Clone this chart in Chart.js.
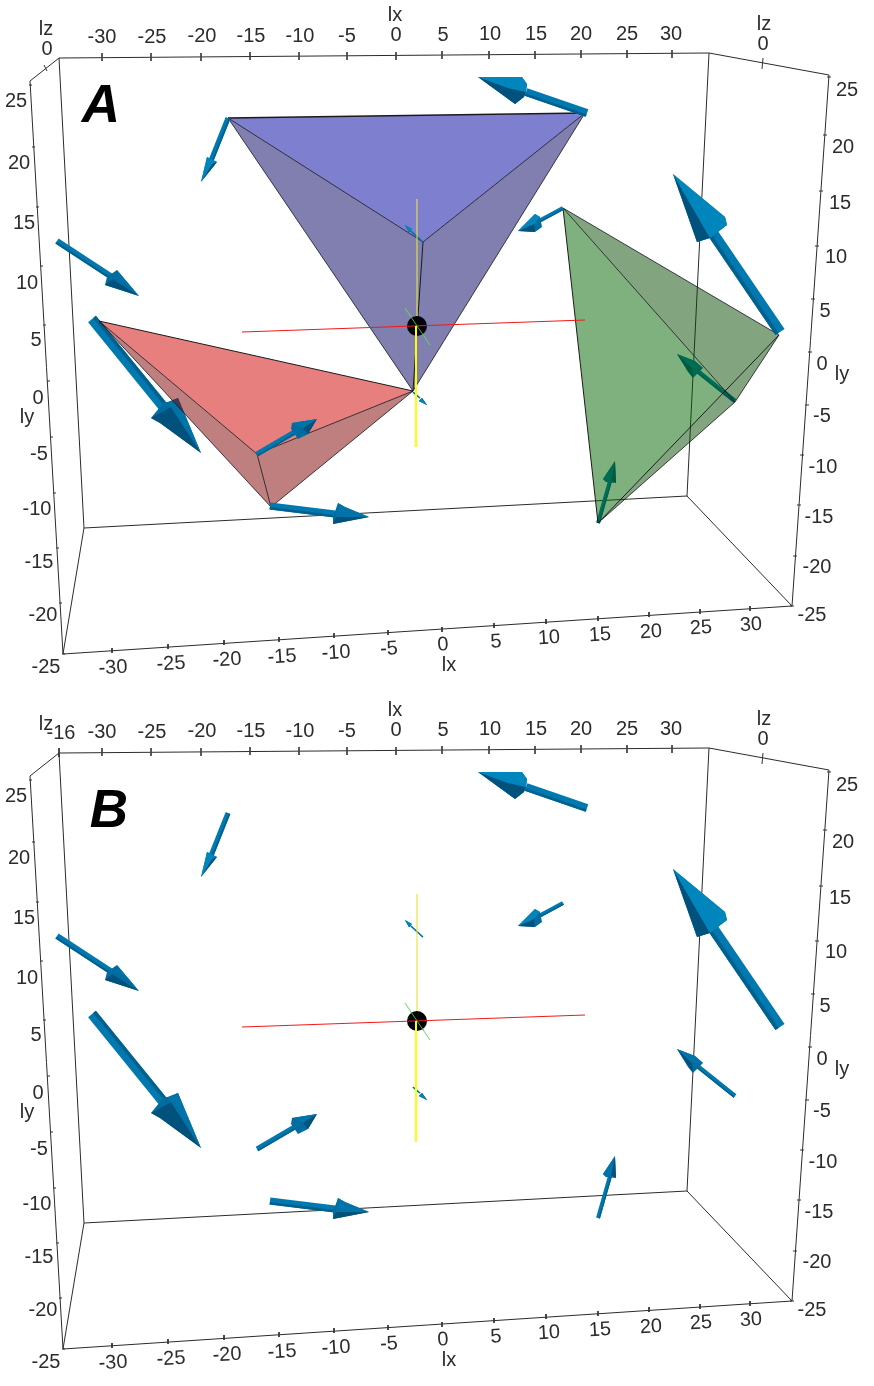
<!DOCTYPE html>
<html lang="en">

<head>
    <meta charset="UTF-8">
    <title>Pyramids and force arrows</title>
    <script src="https://cdn.jsdelivr.net/npm/chart.js"></script>
    <style>
        html, body { margin: 0; padding: 0; background: #fff; }
        canvas { display: block; }
    </style>
</head>

<body>
    <canvas id="chart" width="874" height="1386"></canvas>

    <script>
        // The 3D view is flat in the picture, so the chart's two axes are the picture plane.
        const panelShift = [0, 695];
        const panelNames = ['A', 'B'];
        const panelNamePos = [[101, 107], [109, 117]];

        const topTicks = ['-30', '-25', '-20', '-15', '-10', '-5', '0', '5', '10', '15', '20', '25', '30'];
        const topTickX = [102, 151, 201, 250, 299, 347, 396, 442, 489, 535, 581, 627, 672];
        const topTickY = [57, 57, 57, 56, 56, 56, 56, 55, 55, 55, 54, 54, 54];
        const topLabelX = [102, 152, 202, 251, 300, 347, 396, 443, 490, 536, 581, 627, 671];
        const topLabelY = [37, 37, 36, 36, 36, 36, 35, 35, 34, 34, 34, 34, 34];

        const bottomTickX = [112, 168, 224, 279, 334, 388, 442, 494, 546, 598, 649, 700, 750];
        const bottomTickY = [651, 647, 643, 640, 636, 633, 630, 626, 622, 619, 615, 612, 609];
        const bottomLabelX = [113, 171, 227, 282, 336, 389, 443, 496, 549, 600, 651, 701, 751];
        const bottomLabelY = [668, 664, 660, 657, 653, 649, 645, 642, 638, 635, 632, 628, 625];

        const sideTicks = ['25', '20', '15', '10', '5', '0', '-5', '-10', '-15', '-20', '-25'];
        const leftTickX = [30, 33, 37, 41, 44, 48, 51, 54, 57, 60, 63];
        const leftTickY = [85, 147, 207, 266, 325, 381, 437, 493, 548, 603, 654];
        const leftLabelX = [16, 19, 24, 27, 36, 38, 39, 37, 39, 43, 46];
        const leftLabelY = [101, 163, 223, 283, 340, 398, 454, 509, 562, 615, 667];
        const rightTickX = [828, 824, 820, 816, 812, 809, 806, 801, 798, 794, 791];
        const rightTickY = [77, 135, 191, 246, 299, 352, 405, 455, 505, 556, 606];
        const rightLabelX = [847, 843, 840, 836, 825, 822, 822, 823, 819, 817, 812];
        const rightLabelY = [90, 147, 203, 257, 311, 364, 416, 467, 517, 567, 615];

        const axisTitles = [['lx', 395, 15], ['lx', 449, 665], ['ly', 27, 417], ['ly', 842, 374], ['lz', 46, 29], ['lz', 764, 24]];
        const cornerLabels = [['0', 47, 49], ['-16', 61, 38]];
        const rightDepth = ['0', 763, 44];

        const boxEdges = [
            [[59, 58], [709, 53]], [[30, 81], [63, 654]], [[59, 58], [84, 528]], [[30, 81], [59, 58]],
            [[63, 654], [84, 528]], [[63, 654], [792, 606]], [[84, 528], [687, 496]], [[709, 53], [687, 496]],
            [[829, 75], [792, 606]], [[709, 53], [829, 75]], [[687, 496], [792, 606]]
        ];

        // pyramids, only in panel A
        const blueFaces = [
            [[228, 118], [585, 113], [423, 242]],
            [[228, 118], [423, 242], [413, 391]],
            [[585, 113], [423, 242], [413, 391]]
        ];
        const blueEdges = [[[228, 118], [423, 242]], [[585, 113], [423, 242]], [[228, 118], [413, 391]], [[585, 113], [413, 391]]];
        const redFaces = [
            [[99, 321], [413, 391], [257, 454]],
            [[99, 321], [257, 454], [271, 507]],
            [[257, 454], [413, 391], [271, 507]]
        ];
        const redEdges = [[[99, 321], [257, 454]], [[257, 454], [413, 391]], [[257, 454], [271, 507]], [[99, 321], [271, 507]], [[413, 391], [271, 507]]];
        const greenFaces = [
            [[563, 208], [725, 391], [598, 523]],
            [[563, 208], [779, 335], [725, 391]],
            [[725, 391], [779, 335], [735, 402], [598, 523]]
        ];
        const greenEdges = [[[563, 208], [779, 335]], [[563, 208], [735, 402]], [[779, 335], [735, 402]], [[735, 402], [598, 523]]];
        const heavyEdges = [[[228, 118], [585, 113]], [[423, 242], [413, 391]], [[99, 321], [413, 391]], [[563, 208], [598, 523]], [[779, 335], [598, 523]]];
        const blueColors = ['rgba(0,0,160,0.5)', 'rgba(1,0,95,0.5)', 'rgba(1,0,95,0.5)'];
        const redColors = ['rgba(210,0,0,0.5)', 'rgba(130,0,0,0.5)', 'rgba(130,0,0,0.5)'];
        const greenColors = ['rgba(0,100,0,0.5)', 'rgba(5,75,0,0.5)', 'rgba(5,75,0,0.5)'];

        // arrows: tail, neck (where shaft meets head), shaft width, head outline and its two shaded sides
        const arrowTails = [[228, 118], [587, 113], [780, 332], [57, 241], [92, 319], [257, 454], [270, 506], [598, 523], [735, 401], [563, 208], [423, 242], [413, 392]];
        const arrowNecks = [[210, 163], [526, 92], [712, 232], [112, 277], [165, 409], [298, 430], [335, 514], [610, 481], [695, 369], [537, 222], [411, 231], [420, 398]];
        const arrowWidths = [5, 8, 11, 6, 10, 5, 7, 4, 4.5, 4, 1.5, 1.5];
        const arrowBright = [1, 1, 1, 0, 0, 0, 0, 0, 0, 1, 1, 1];
        const arrowOutline = [
            [[201, 182], [207, 157], [217, 162]],
            [[478, 77], [522, 77], [527, 84], [526, 92], [524, 97], [515, 104]],
            [[673, 174], [725, 217], [727, 225], [710, 238], [697, 242]],
            [[139, 296], [117, 270], [107, 277], [105, 285]],
            [[201, 453], [178, 398], [168, 402], [164, 402], [151, 418], [160, 423]],
            [[317, 419], [292, 423], [291, 429], [298, 439], [308, 434]],
            [[369, 517], [345, 507], [338, 503], [333, 517], [333, 524]],
            [[615, 461], [603, 479], [606, 482], [616, 483]],
            [[677, 354], [695, 361], [703, 368], [693, 378], [688, 372]],
            [[518, 231], [535, 214], [540, 217], [542, 227], [535, 232]],
            [[405, 225], [412, 229], [409, 232]],
            [[427, 405], [422, 398], [419, 401]]
        ];
        const arrowLight = [
            [[201, 182], [207, 157], [217, 162], [212, 164]],
            [[478, 77], [522, 77], [527, 84], [526, 92], [508, 88]],
            [[673, 174], [725, 217], [727, 225], [710, 238]],
            [[139, 296], [117, 270], [119, 277]],
            [[201, 453], [178, 398], [168, 402], [171, 407]],
            [[317, 419], [292, 423], [303, 428]],
            [[369, 517], [345, 507], [338, 503], [336, 517]],
            [[615, 461], [603, 479], [606, 482], [611, 480]],
            [[677, 354], [695, 361], [703, 368], [692, 368]],
            [[518, 231], [535, 214], [540, 217], [534, 224]],
            [[405, 225], [412, 229], [409, 232]],
            [[427, 405], [422, 398], [419, 401]]
        ];
        const arrowDark = [
            [[201, 182], [217, 162], [212, 164]],
            [[478, 77], [515, 104], [524, 97], [526, 92], [508, 88]],
            [[673, 174], [710, 238], [697, 242]],
            [[139, 296], [105, 285], [112, 279]],
            [[201, 453], [171, 407], [151, 418], [160, 423]],
            [[317, 419], [308, 434], [303, 428]],
            [[369, 517], [333, 524], [336, 517]],
            [[615, 461], [616, 483], [611, 480]],
            [[677, 354], [693, 378], [692, 368]],
            [[518, 231], [535, 232], [534, 224]],
            [[405, 225], [409, 232], [411, 231]],
            [[427, 405], [419, 401], [422, 398]]
        ];
        const arrowsUnderPyramids = [4, 7, 8];

        const redAxis = [[242, 332], [585, 320]];
        const greenAxis = [[405, 308], [430, 345]];
        const yellowUpper = [[417, 199], [417, 326]];
        const yellowLower = [[416, 326], [416, 447]];
        const centre = [417, 326];

        const layers = [];

        function pts(list, dy) {
            return list.map(p => ({ x: p[0], y: p[1] + dy }));
        }

        function addLine(list, dy, color, width) {
            layers.push({
                data: pts(list, dy), showLine: true, pointRadius: 0, borderColor: color,
                borderWidth: width, tension: 0, fill: false, clip: false
            });
        }

        function addPoly(list, dy, color) {
            layers.push({
                data: pts(list, dy), showLine: true, pointRadius: 0, borderColor: color,
                borderWidth: 0, tension: 0, fill: 'shape', backgroundColor: color, clip: false
            });
        }

        function addArrow(i, dy) {
            const tail = arrowTails[i], neck = arrowNecks[i], w = arrowWidths[i] / 2;
            const dx = neck[0] - tail[0], dyy = neck[1] - tail[1], len = Math.hypot(dx, dyy);
            let nx = -dyy / len, ny = dx / len;
            // keep the darker strip of the shaft on the same side as the dark side of the head
            const d = arrowDark[i][1];
            if ((d[0] - neck[0]) * nx + (d[1] - neck[1]) * ny < 0) { nx = -nx; ny = -ny; }
            const at = (p, k) => [p[0] + nx * w * k, p[1] + ny * w * k];
            addPoly([at(tail, -1), at(neck, -1), at(neck, 1), at(tail, 1)], dy, '#0078b0');
            addPoly([at(tail, 0.3), at(neck, 0.3), at(neck, 1), at(tail, 1)], dy, '#00618f');
            addPoly(arrowOutline[i], dy, '#006c9f');
            addPoly(arrowDark[i], dy, '#00527c');
            addPoly(arrowLight[i], dy, arrowBright[i] ? '#0086bd' : '#0074a8');
        }

        function addPyramid(faces, colors, edges) {
            faces.forEach((f, i) => addPoly(f, 0, colors[i]));
            edges.forEach(e => addLine(e, 0, 'rgba(20,20,30,0.8)', 1));
        }

        panelShift.forEach((dy, panel) => {
            boxEdges.forEach(e => addLine(e, dy, '#2b2b2b', 1));
            topTickX.forEach((x, i) => {
                addLine([[x, topTickY[i] - 4], [x, topTickY[i] + 4]], dy, '#444', 1);
                addLine([[bottomTickX[i], bottomTickY[i] - 3], [bottomTickX[i], bottomTickY[i] + 2]], dy, '#333', 1);
            });
            leftTickX.forEach((x, i) => {
                addLine([[x - 1, leftTickY[i]], [x + 2, leftTickY[i]]], dy, '#333', 1);
                addLine([[rightTickX[i] - 1, rightTickY[i]], [rightTickX[i] + 3, rightTickY[i]]], dy, '#333', 1);
            });
            addLine([[763, 58], [762, 69]], dy, '#333', 1);
            addLine(panel === 0 ? [[44, 65], [47, 71]] : [[59, 53], [59, 62]], dy, '#333', 1);

            if (panel === 0) {
                arrowsUnderPyramids.forEach(i => addArrow(i, dy));
                addPyramid(greenFaces, greenColors, greenEdges);
                addPyramid(redFaces, redColors, redEdges);
                addPyramid(blueFaces, blueColors, blueEdges);
                heavyEdges.forEach((e, i) => addLine(e, 0, '#1a1a1a', i === 0 ? 1.3 : 1));
            }
            arrowTails.forEach((t, i) => {
                if (panel === 1 || !arrowsUnderPyramids.includes(i)) addArrow(i, dy);
            });

            addLine(yellowUpper, dy, 'rgba(225,225,70,0.7)', 0.7);
            addLine(greenAxis, dy, '#5fdc5f', 1);
            layers.push({
                data: pts([centre], dy), pointRadius: 10, pointBackgroundColor: '#000008',
                pointBorderWidth: 0, showLine: false, clip: false
            });
            addLine(redAxis, dy, '#f01818', 1);
            addLine(yellowLower, dy, '#ffff00', 2);
            addLine(greenAxis.map(p => [p[0] * 0.5 + centre[0] * 0.5, p[1] * 0.5 + centre[1] * 0.5]), dy, '#2fbf2f', 1);
        });

        const textPlugin = {
            id: 'pictureText',
            afterDatasetsDraw(chart) {
                const ctx = chart.ctx, sx = chart.scales.x, sy = chart.scales.y;
                ctx.save();
                ctx.textAlign = 'center';
                ctx.textBaseline = 'middle';
                const put = (text, x, y, tilt) => {
                    ctx.save();
                    ctx.translate(sx.getPixelForValue(x), sy.getPixelForValue(y));
                    if (tilt) ctx.rotate(tilt);
                    ctx.fillText(text, 0, 0);
                    ctx.restore();
                };
                panelShift.forEach((dy, panel) => {
                    ctx.font = '20px "Liberation Sans"';
                    ctx.fillStyle = '#2c2c2c';
                    topTicks.forEach((t, i) => {
                        put(t, topLabelX[i], topLabelY[i] + dy);
                        put(t, bottomLabelX[i], bottomLabelY[i] + dy, -0.06);
                    });
                    sideTicks.forEach((t, i) => {
                        put(t, leftLabelX[i], leftLabelY[i] + dy);
                        put(t, rightLabelX[i], rightLabelY[i] + dy);
                    });
                    axisTitles.forEach(t => put(t[0], t[1], t[2] + dy));
                    put(cornerLabels[panel][0], cornerLabels[panel][1], cornerLabels[panel][2] + dy);
                    put(rightDepth[0], rightDepth[1], rightDepth[2] + dy);
                    ctx.font = 'italic bold 53px "Liberation Sans"';
                    ctx.fillStyle = '#000';
                    put(panelNames[panel], panelNamePos[panel][0], panelNamePos[panel][1] + dy);
                });
                ctx.restore();
            }
        };

        new Chart(document.getElementById('chart'), {
            type: 'scatter',
            // chart.js paints the first dataset last
            data: { datasets: layers.reverse() },
            plugins: [textPlugin],
            options: {
                responsive: false,
                animation: false,
                layout: { padding: 0, autoPadding: false },
                plugins: { legend: { display: false }, tooltip: { enabled: false } },
                scales: {
                    x: { type: 'linear', min: 0, max: 874, display: false },
                    y: { type: 'linear', min: 0, max: 1386, reverse: true, display: false }
                }
            }
        });
    </script>
</body>

</html>
